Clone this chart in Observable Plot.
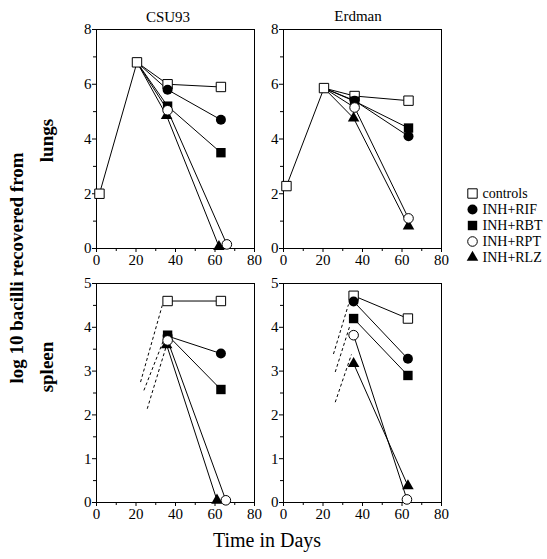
<!DOCTYPE html>
<html><head><meta charset="utf-8">
<script src="https://cdn.jsdelivr.net/npm/d3@7"></script>
<script src="https://cdn.jsdelivr.net/npm/@observablehq/plot@0.6"></script>
<style>
body{margin:0;background:#fff;}
#root{position:relative;width:547px;height:559px;overflow:hidden;background:#fff;font-family:"Liberation Serif","Times New Roman",serif;}
#root svg{position:absolute;max-width:none;}
#root svg text{font-family:"Liberation Serif","Times New Roman",serif;}
</style></head><body><div id="root"></div>
<script>
// ---------- data ----------
const seriesNames = ["controls", "INH+RIF", "INH+RBT", "INH+RPT", "INH+RLZ"];
const strains = ["CSU93", "Erdman"];
const organs = ["lungs", "spleen"];
const yTitle = "log 10 bacilli recovered from";
const xTitle = "Time in Days";
const xTicks = [0, 20, 40, 60, 80];
const xMinorTicks = [10, 30, 50, 70];
const lungsTicks = [0, 2, 4, 6, 8];
const lungsMinorTicks = [1, 3, 5, 7];
const spleenTicks = [0, 1, 2, 3, 4, 5];
const spleenMinorTicks = [0.5, 1.5, 2.5, 3.5, 4.5];

// [series, day, log10 bacilli]
const csu93Lungs = [
  ["controls", 1.5, 2.0], ["controls", 20.5, 6.8], ["controls", 36, 6.0], ["controls", 63, 5.9],
  ["INH+RIF", 36, 5.8], ["INH+RIF", 63, 4.7],
  ["INH+RBT", 36, 5.2], ["INH+RBT", 63, 3.5],
  ["INH+RPT", 36, 5.05], ["INH+RPT", 66, 0.15],
  ["INH+RLZ", 35.5, 4.85], ["INH+RLZ", 62, 0.07]
];
const erdmanLungs = [
  ["controls", 1.5, 2.28], ["controls", 20.5, 5.86], ["controls", 36, 5.57], ["controls", 63.3, 5.4],
  ["INH+RIF", 36, 5.4], ["INH+RIF", 63.3, 4.1],
  ["INH+RBT", 36, 5.38], ["INH+RBT", 63.3, 4.4],
  ["INH+RPT", 36, 5.15], ["INH+RPT", 63.3, 1.1],
  ["INH+RLZ", 35.5, 4.76], ["INH+RLZ", 63.3, 0.82]
];
const csu93Spleen = [
  ["controls", 36, 4.6], ["controls", 63, 4.6],
  ["INH+RIF", 36, 3.8], ["INH+RIF", 63, 3.4],
  ["INH+RBT", 36, 3.82], ["INH+RBT", 63, 2.58],
  ["INH+RPT", 36, 3.7], ["INH+RPT", 65.5, 0.05],
  ["INH+RLZ", 35.5, 3.6], ["INH+RLZ", 61, 0.05]
];
const erdmanSpleen = [
  ["controls", 35.5, 4.72], ["controls", 63, 4.2],
  ["INH+RIF", 35.5, 4.59], ["INH+RIF", 63, 3.28],
  ["INH+RBT", 35.5, 4.2], ["INH+RBT", 63, 2.9],
  ["INH+RPT", 35.5, 3.82], ["INH+RPT", 62.5, 0.07],
  ["INH+RLZ", 35.5, 3.17], ["INH+RLZ", 63, 0.38]
];
// dashed extrapolation segments: [day1, value1, day2, value2]
const csu93SpleenDashed = [[22.3, 2.75, 33.3, 4.5], [24.0, 2.56, 34.1, 3.72], [25.7, 2.14, 35.2, 3.55]];
const erdmanSpleenDashed = [[25.3, 3.39, 32.9, 4.52], [26.2, 2.98, 33.7, 4.05], [26.2, 2.29, 34.4, 3.38]];

// ---------- rendering ----------
const root = document.getElementById("root");
const FONT = '"Liberation Serif","Times New Roman",serif';
const sym = {
  "controls": {symbol: "square", fill: "white", stroke: "black", strokeWidth: 1, r: 5.3},
  "INH+RIF": {symbol: "circle", fill: "black", stroke: "none", r: 5},
  "INH+RBT": {symbol: "square", fill: "black", stroke: "none", r: 5.3},
  "INH+RPT": {symbol: "circle", fill: "white", stroke: "black", strokeWidth: 1, r: 4.8},
  "INH+RLZ": {symbol: "triangle", fill: "black", stroke: "none", r: 4.3}
};
const drawOrder = ["controls", "INH+RIF", "INH+RBT", "INH+RLZ", "INH+RPT"];
const W = 158, H = 219, mL = 28, mR = 6, mT = 6, mB = 24;

function fixFont(svg) {
  svg.setAttribute("font-family", FONT);
  svg.style.fontFamily = FONT;
  svg.querySelectorAll("text, g").forEach(t => { if (t.hasAttribute("font-family")) t.setAttribute("font-family", FONT); });
}

function panel(rows, dashed, yMax, ticks, minor, fx, fy) {
  const data = rows.map(([series, day, value]) => ({series, day, value}));
  const ctrl = data.filter(d => d.series === "controls");
  const branch = ctrl.find(d => d.day > 15 && d.day < 25);
  const lineData = [];
  for (const s of seriesNames) {
    const pts = data.filter(d => d.series === s);
    if (s !== "controls" && branch) lineData.push({...branch, series: s});
    lineData.push(...pts);
  }
  const marks = [
    Plot.frame({stroke: "black", strokeWidth: 1}),
    Plot.axisX(xTicks, {tickSize: 4, tickPadding: 2, fontSize: 15, fontFamily: FONT, label: null}),
    Plot.axisX(xMinorTicks, {tickSize: 3, tickFormat: () => "", label: null}),
    Plot.axisY(ticks, {tickSize: 4, tickPadding: 1, fontSize: 15, fontFamily: FONT, label: null}),
    Plot.axisY(minor, {tickSize: 3, tickFormat: () => "", label: null})
  ];
  if (dashed) marks.push(Plot.link(dashed, {x1: d => d[0], y1: d => d[1], x2: d => d[2], y2: d => d[3], stroke: "black", strokeWidth: 1, strokeDasharray: "3,2.5"}));
  marks.push(Plot.line(lineData, {x: "day", y: "value", z: "series", stroke: "black", strokeWidth: 1}));
  for (const s of drawOrder) marks.push(Plot.dot(data.filter(d => d.series === s), {x: "day", y: "value", ...sym[s]}));
  const svg = Plot.plot({
    width: W + mL + mR, height: H + mT + mB,
    marginLeft: mL, marginRight: mR, marginTop: mT, marginBottom: mB,
    x: {domain: [0, 80], label: null},
    y: {domain: [0, yMax], label: null},
    style: {fontFamily: FONT, fontSize: "15px", background: "transparent", color: "black", overflow: "visible"},
    marks
  });
  fixFont(svg);
  svg.style.left = (fx - mL) + "px";
  svg.style.top = (fy - mT) + "px";
  root.appendChild(svg);
}

panel(csu93Lungs, null, 8, lungsTicks, lungsMinorTicks, 96, 29);
panel(erdmanLungs, null, 8, lungsTicks, lungsMinorTicks, 283, 29);
panel(csu93Spleen, csu93SpleenDashed, 5, spleenTicks, spleenMinorTicks, 96, 283);
panel(erdmanSpleen, erdmanSpleenDashed, 5, spleenTicks, spleenMinorTicks, 283, 283);

// legend
const legMarks = [];
for (const s of seriesNames) legMarks.push(Plot.dot([s], {x: () => 0, y: d => d, ...sym[s]}));
legMarks.push(Plot.text(seriesNames, {x: () => 0, y: d => d, text: d => d, dx: 10, textAnchor: "start", fontSize: 14, fontFamily: FONT, fill: "black"}));
const legend = Plot.plot({
  width: 85, height: 82, margin: 0,
  x: {domain: [0, 1], range: [7, 85], axis: null},
  y: {type: "point", domain: seriesNames, range: [7, 74], padding: 0, axis: null},
  style: {fontFamily: FONT, background: "transparent", overflow: "visible"},
  marks: legMarks
});
fixFont(legend);
legend.style.left = "465px"; legend.style.top = "184px";
root.appendChild(legend);

// titles and axis labels
const overlay = d3.select(root).append("svg").attr("width", 547).attr("height", 559)
  .style("left", "0px").style("top", "0px").style("pointer-events", "none")
  .attr("font-family", FONT);
overlay.append("text").attr("x", 168).attr("y", 22).attr("text-anchor", "middle").attr("font-size", 15).text(strains[0]);
overlay.append("text").attr("x", 358).attr("y", 21).attr("text-anchor", "middle").attr("font-size", 15).text(strains[1]);
overlay.append("text").attr("transform", "translate(22.5,268) rotate(-90)").attr("text-anchor", "middle").attr("font-size", 19).attr("font-weight", "bold").text(yTitle);
overlay.append("text").attr("transform", "translate(52.5,140.5) rotate(-90)").attr("text-anchor", "middle").attr("font-size", 19).attr("font-weight", "bold").text(organs[0]);
overlay.append("text").attr("transform", "translate(53,367) rotate(-90)").attr("text-anchor", "middle").attr("font-size", 19).attr("font-weight", "bold").text(organs[1]);
overlay.append("text").attr("x", 267).attr("y", 547).attr("text-anchor", "middle").attr("font-size", 20).text(xTitle);
</script></body></html>
